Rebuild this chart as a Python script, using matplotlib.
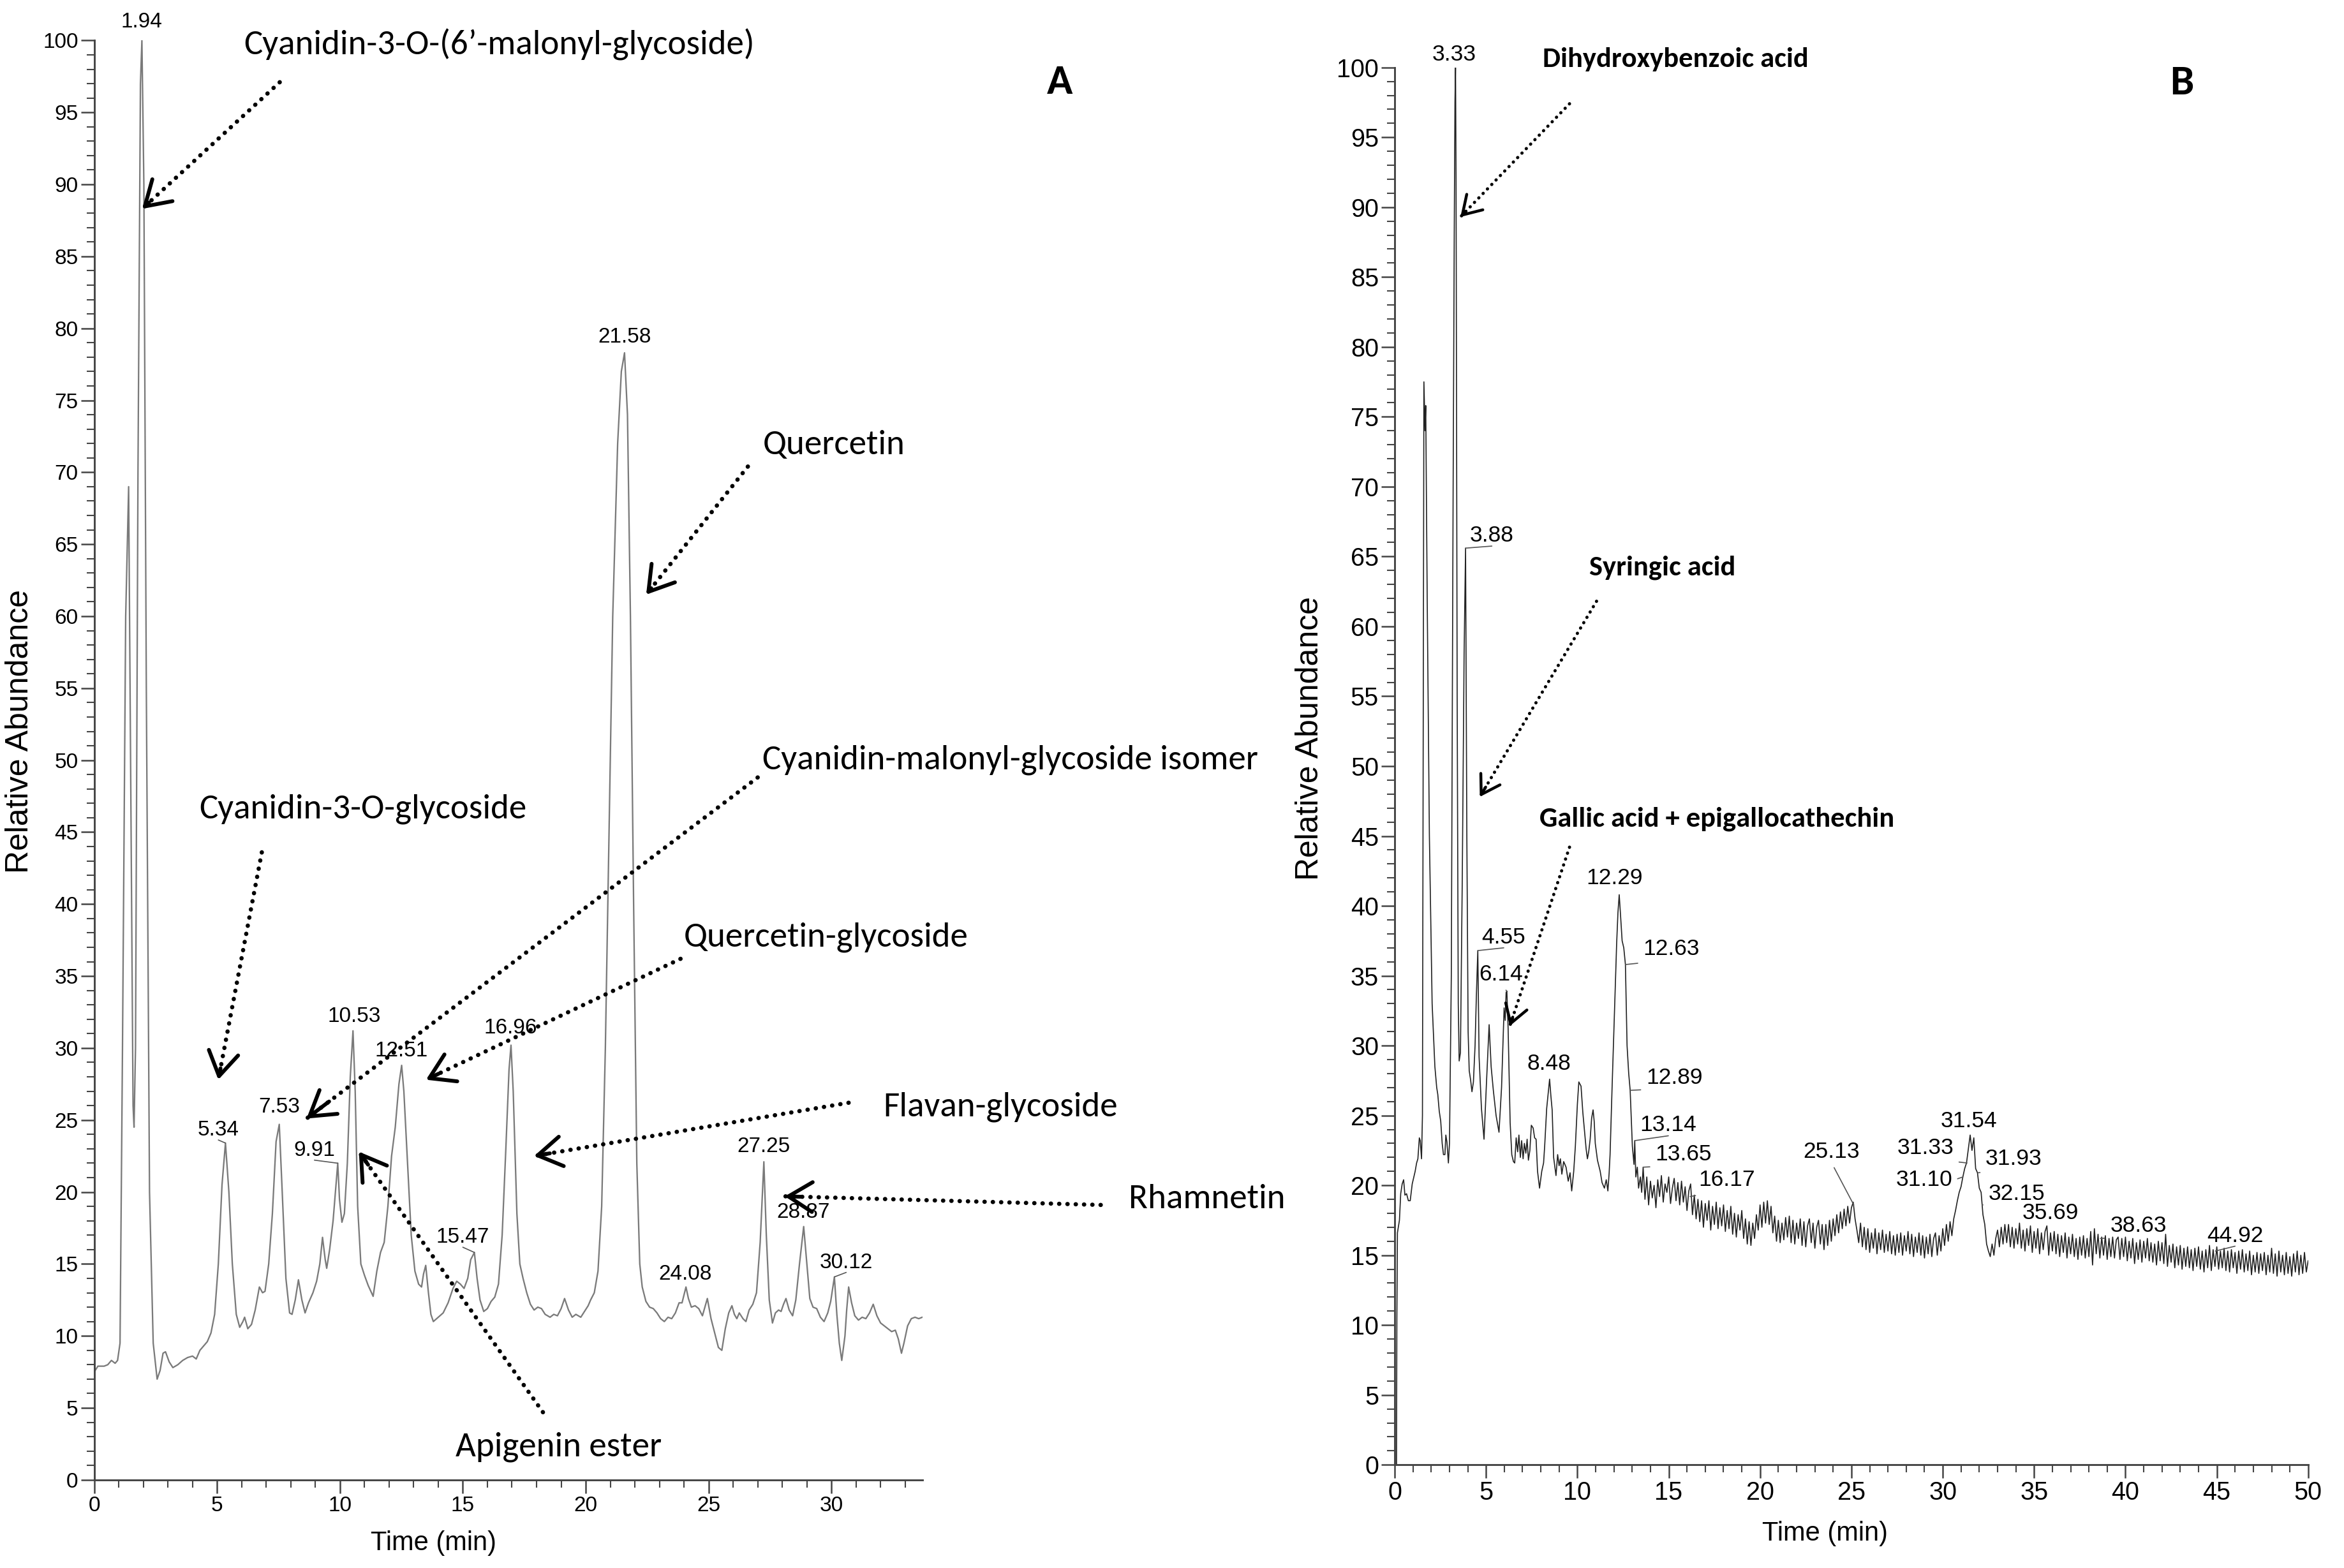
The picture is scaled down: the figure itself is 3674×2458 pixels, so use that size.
import numpy as np
import matplotlib
matplotlib.use("Agg")
import matplotlib.pyplot as plt
from matplotlib import font_manager
from matplotlib.ticker import MultipleLocator

# fonts: instrument-like narrow sans for axes, Calibri-like for the compound names
names = {f.name for f in font_manager.fontManager.ttflist}
NARROW = "Liberation Sans Narrow" if "Liberation Sans Narrow" in names else "Liberation Sans"
LABEL_FONT = "Carlito" if "Carlito" in names else "Lato"
NUM_FONT = "Liberation Sans"

# ---------------- panel A: chromatogram ----------------
a_time = [0.00, 0.15, 0.40, 0.55, 0.70, 0.85, 0.95, 1.05, 1.15, 1.28, 1.40, 1.50, 1.58, 1.62,
          1.68, 1.78, 1.88, 1.94, 2.02, 2.12, 2.25, 2.40, 2.56, 2.68, 2.80, 2.90, 3.05, 3.20,
          3.40, 3.60, 3.80, 4.00, 4.15, 4.30, 4.45, 4.60, 4.75, 4.90, 5.05, 5.20, 5.34, 5.48,
          5.62, 5.78, 5.92, 6.05, 6.12, 6.25, 6.40, 6.55, 6.72, 6.85, 6.95, 7.10, 7.25, 7.40,
          7.53, 7.65, 7.80, 7.95, 8.05, 8.18, 8.31, 8.45, 8.58, 8.72, 8.90, 9.05, 9.18, 9.29,
          9.40, 9.46, 9.58, 9.72, 9.91, 9.98, 10.08, 10.18, 10.30, 10.42, 10.53, 10.62, 10.72,
          10.85, 11.00, 11.15, 11.35, 11.50, 11.65, 11.80, 11.95, 12.10, 12.25, 12.40, 12.51,
          12.60, 12.75, 12.90, 13.05, 13.20, 13.32, 13.40, 13.49, 13.60, 13.70, 13.80, 14.00,
          14.20, 14.40, 14.60, 14.75, 14.90, 15.05, 15.20, 15.32, 15.47, 15.58, 15.70, 15.85,
          16.00, 16.15, 16.30, 16.45, 16.60, 16.75, 16.88, 16.96, 17.05, 17.20, 17.32, 17.45,
          17.60, 17.75, 17.90, 18.05, 18.20, 18.35, 18.55, 18.70, 18.85, 19.00, 19.14, 19.30,
          19.45, 19.60, 19.80, 19.95, 20.10, 20.20, 20.35, 20.50, 20.65, 20.80, 20.95, 21.10,
          21.30, 21.45, 21.58, 21.70, 21.82, 21.95, 22.08, 22.20, 22.30, 22.45, 22.60, 22.75,
          22.90, 23.05, 23.20, 23.35, 23.50, 23.65, 23.80, 23.92, 24.08, 24.18, 24.30, 24.45,
          24.60, 24.75, 24.85, 24.95, 25.10, 25.25, 25.40, 25.54, 25.68, 25.82, 25.95, 26.05,
          26.15, 26.25, 26.40, 26.52, 26.65, 26.80, 26.95, 27.10, 27.25, 27.35, 27.47, 27.60,
          27.72, 27.85, 27.95, 28.05, 28.15, 28.28, 28.42, 28.55, 28.70, 28.87, 29.00, 29.12,
          29.25, 29.40, 29.55, 29.70, 29.85, 29.97, 30.12, 30.22, 30.32, 30.42, 30.55, 30.62,
          30.70, 30.82, 30.95, 31.10, 31.25, 31.40, 31.55, 31.70, 31.85, 32.00, 32.15, 32.30,
          32.45, 32.60, 32.72, 32.85, 32.95, 33.10, 33.25, 33.40, 33.55, 33.70]
a_abund = [7.5, 7.9, 7.9, 8.0, 8.3, 8.1, 8.3, 9.5, 30.0, 60.0, 69.0, 45.0, 26.0, 24.5,
           30.0, 70.0, 97.0, 100.0, 90.0, 55.0, 20.0, 9.5, 7.0, 7.6, 8.8, 8.9, 8.2, 7.8,
           8.0, 8.3, 8.5, 8.6, 8.4, 9.0, 9.3, 9.6, 10.2, 11.5, 15.0, 20.5, 23.4, 20.0,
           15.0, 11.5, 10.6, 11.0, 11.3, 10.5, 10.8, 11.8, 13.4, 13.0, 13.1, 15.0, 18.5, 23.5,
           24.7, 20.0, 14.0, 11.6, 11.5, 12.5, 13.9, 12.5, 11.6, 12.3, 13.0, 13.8, 15.0, 16.85,
           15.3, 14.7, 16.0, 18.0, 22.0, 19.5, 17.9, 18.5, 22.0, 28.0, 31.2, 27.0, 19.0,
           15.0, 14.2, 13.5, 12.75, 14.5, 15.8, 16.5, 19.0, 22.5, 24.5, 27.5, 28.8,
           27.0, 22.0, 17.0, 14.5, 13.6, 13.4, 14.3, 14.9, 13.0, 11.5, 11.0, 11.3,
           11.6, 12.3, 13.3, 13.8, 13.6, 13.3, 14.0, 15.3, 15.8, 14.0, 12.5, 11.7,
           11.9, 12.4, 12.7, 13.6, 17.0, 23.0, 28.5, 30.2, 27.0, 18.5, 15.0, 14.0,
           13.0, 12.2, 11.8, 12.0, 11.9, 11.5, 11.3, 11.5, 11.4, 11.9, 12.6, 11.8,
           11.3, 11.5, 11.3, 11.7, 12.1, 12.5, 13.0, 14.5, 19.0, 30.0, 45.0, 60.0,
           72.0, 77.0, 78.3, 74.0, 60.0, 40.0, 22.0, 15.0, 13.4, 12.4, 12.0, 11.9,
           11.6, 11.2, 11.0, 11.3, 11.2, 11.6, 12.3, 12.3, 13.4, 12.6, 12.0, 12.1,
           11.9, 11.4, 12.0, 12.6, 11.2, 10.2, 9.2, 9.0, 10.5, 11.6, 12.1, 11.5,
           11.2, 11.6, 11.2, 11.0, 11.8, 12.2, 13.0, 16.5, 22.1, 17.0, 12.5, 10.9,
           11.6, 11.8, 11.7, 12.2, 12.6, 11.8, 11.4, 12.5, 15.0, 17.6, 15.0, 12.6,
           12.0, 11.9, 11.3, 11.0, 11.6, 12.4, 14.1, 11.5, 9.5, 8.3, 10.0, 11.8,
           13.4, 12.3, 11.4, 11.1, 11.3, 11.2, 11.6, 12.2, 11.4, 10.9, 10.7, 10.5,
           10.3, 10.4, 9.8, 8.8, 9.5, 10.7, 11.2, 11.3, 11.2, 11.3]

# peak labels A: text centre, peak apex, leader line or not
a_peak_lbl = ["1.94", "5.34", "7.53", "9.91", "10.53", "12.51", "15.47", "16.96", "21.58",
              "24.08", "27.25", "28.87", "30.12"]
a_peak_tx = [1.94, 5.05, 7.52, 8.96, 10.58, 12.5, 15.0, 16.95, 21.58, 24.05, 27.23, 28.85, 30.6]
a_peak_ty = [101.3, 24.3, 25.9, 22.9, 32.2, 29.8, 16.85, 31.4, 79.4, 14.3, 23.15, 18.6, 15.1]
a_peak_px = [1.94, 5.34, 7.53, 9.91, 10.53, 12.51, 15.47, 16.96, 21.58, 24.08, 27.25, 28.87, 30.12]
a_peak_py = [100, 23.4, 24.7, 22.0, 31.2, 28.8, 15.8, 30.2, 78.3, 13.4, 22.1, 17.6, 14.1]
a_leader = [False, True, False, True, False, False, True, False, False, False, False, False, True]

# compound names A: text position, arrow tail, arrow head (data coords)
a_cmp = ["Cyanidin-3-O-(6\u2019-malonyl-glycoside)", "Quercetin",
         "Cyanidin-malonyl-glycoside isomer", "Cyanidin-3-O-glycoside",
         "Quercetin-glycoside", "Flavan-glycoside", "Rhamnetin", "Apigenin ester"]
a_cmp_txt = [(6.1, 99.7), (27.2, 71.9), (27.2, 50.0), (4.26, 46.6),
             (24.0, 37.7), (32.1, 25.9), (42.1, 19.5), (14.7, 2.3)]
a_cmp_tail = [(7.55, 97.1), (26.6, 70.4), (27.0, 48.8), (6.82, 43.6),
              (23.86, 36.2), (30.7, 26.2), (40.96, 19.1), (18.26, 4.7)]
a_cmp_head = [(1.95, 88.3), (22.46, 61.5), (8.64, 25.1), (5.05, 27.8),
              (13.5, 27.8), (17.9, 22.5), (28.1, 19.7), (10.77, 22.8)]

# ---------------- panel B ----------------
b_head_time = [0.10, 0.12, 0.15, 0.26, 0.33, 0.41, 0.49, 0.56, 0.65, 0.75, 0.85, 0.96, 1.05,
               1.12, 1.20, 1.27, 1.35, 1.40, 1.47, 1.52, 1.60, 1.66, 1.70, 1.78, 1.90, 2.05,
               2.20, 2.30, 2.36, 2.44, 2.52, 2.60, 2.67, 2.75, 2.80, 2.86, 2.94, 3.00, 3.10,
               3.20, 3.26, 3.30, 3.33, 3.36, 3.42, 3.48, 3.53, 3.60, 3.70, 3.80, 3.88, 3.95,
               4.02, 4.08, 4.15, 4.23, 4.31, 4.40, 4.47, 4.55, 4.62, 4.75, 4.89, 5.03, 5.17,
               5.28, 5.40, 5.55, 5.71, 5.85, 5.99, 6.05, 6.10, 6.14, 6.21, 6.32, 6.41, 6.50,
               6.57, 6.65, 6.73, 6.80, 6.88, 6.95, 7.03, 7.10, 7.18, 7.25, 7.32, 7.40, 7.48,
               7.58, 7.66, 7.74, 7.82, 7.93, 8.05, 8.15, 8.21, 8.32, 8.48, 8.55, 8.62, 8.70,
               8.83, 8.92, 9.00, 9.07, 9.15, 9.25, 9.38, 9.50, 9.60, 9.69, 9.80, 9.89, 10.00,
               10.08, 10.20, 10.30, 10.39, 10.48, 10.55, 10.62, 10.70, 10.78, 10.86, 10.92,
               10.98, 11.10, 11.25, 11.35, 11.48, 11.58, 11.67, 11.74, 11.79, 11.90, 12.03,
               12.15, 12.22, 12.29, 12.35, 12.45, 12.54, 12.63, 12.72, 12.81, 12.89, 13.01,
               13.10, 13.14, 13.20, 13.28, 13.35, 13.45, 13.52]
b_head_abund = [0.0, 10.5, 16.6, 17.5, 19.4, 20.1, 20.4, 19.3, 19.4, 18.9, 18.9, 20.1, 20.6,
                21.0, 21.6, 21.9, 23.4, 23.2, 21.9, 25.0, 77.5, 74.0, 75.8, 62.0, 45.0, 33.0,
                28.5, 27.0, 26.5, 25.3, 24.6, 23.0, 22.2, 22.2, 23.6, 23.1, 21.6, 23.0, 35.0,
                70.0, 88.0, 97.5, 100.0, 92.0, 55.0, 33.0, 28.9, 29.5, 42.0, 58.0, 65.6, 45.0,
                31.0, 28.2, 27.6, 26.7, 27.4, 30.0, 33.5, 36.8, 29.2, 25.5, 23.3, 27.5, 31.5,
                28.5, 26.8, 25.0, 23.8, 27.0, 32.7, 31.8, 33.8, 33.9, 31.2, 24.5, 22.2, 21.7,
                21.6, 23.4, 22.4, 23.6, 22.0, 23.2, 21.9, 23.0, 22.3, 23.3, 21.8, 22.5, 24.3,
                24.1, 23.4, 23.3, 21.0, 19.8, 21.0, 21.6, 22.8, 25.5, 27.6, 26.4, 25.4, 22.0,
                20.7, 22.2, 21.4, 21.9, 20.8, 21.7, 21.3, 20.3, 20.9, 19.6, 21.0, 22.8, 25.8,
                27.4, 27.1, 25.2, 23.9, 22.6, 21.9, 22.4, 23.3, 24.8, 25.4, 24.6,
                23.0, 21.8, 21.0, 20.2, 19.8, 20.4, 19.6, 20.9, 22.2, 27.0, 32.4,
                37.3, 39.5, 40.8, 39.6, 37.5, 37.0, 35.8, 30.0, 28.0, 26.8, 22.8,
                21.5, 23.2, 20.6, 21.3, 19.8, 20.6, 19.5]

# scans every 0.1 min from 13.6 to 50.0 min (noisy baseline, read row by row)
b_tail_time = np.arange(136, 501) / 10.0
b_tail_abund = [
    21.3, 19.0, 20.6, 18.6, 20.3, 19.1, 20.0, 18.4, 20.4, 19.2, 20.7, 18.8, 20.1, 19.5, 20.6, 18.7, 19.8, 20.5, 18.9, 20.2,
    18.6, 20.3, 18.8, 19.9, 18.2, 19.6, 20.1, 17.9, 19.3, 17.6, 19.0, 17.4, 18.9, 17.0, 18.7, 17.5, 18.9, 16.8, 18.5, 17.2,
    18.8, 16.9, 18.4, 17.1, 18.6, 16.7, 18.2, 16.9, 18.5, 16.5, 18.0, 16.3, 17.9, 16.8, 18.2, 16.2, 17.6, 15.8, 17.4, 15.7,
    17.3, 16.2, 17.9, 16.8, 18.6, 17.0, 18.8, 17.3, 18.9, 17.2, 18.5, 16.6, 17.8, 16.0, 17.5, 15.9, 17.3, 16.1, 17.7, 16.3,
    17.8, 15.9, 17.5, 15.8, 17.3, 16.2, 17.6, 15.7, 17.4, 15.6, 17.1, 17.6, 15.9, 17.3, 15.5, 17.0, 17.5, 15.8, 17.2, 15.4,
    17.2, 15.7, 17.5, 16.0, 17.6, 16.4, 17.9, 16.6, 18.1, 16.9, 18.3, 17.1, 18.5, 17.3, 18.4, 18.8, 17.6, 16.8, 15.9, 17.3,
    15.6, 17.0, 15.4, 16.9, 15.2, 16.6, 15.5, 16.9, 15.1, 16.6, 15.4, 16.8, 15.2, 16.5, 15.3, 16.7, 15.1, 16.4, 15.0, 16.5,
    15.2, 16.6, 15.0, 16.4, 15.3, 16.7, 15.1, 16.5, 14.9, 16.3, 15.2, 16.6, 15.0, 16.4, 14.8, 16.3, 15.1, 16.5, 14.9, 16.2,
    16.6, 15.0, 16.4, 15.3, 16.9, 15.7, 17.2, 16.0, 17.4, 16.4, 17.6, 18.2, 18.9, 19.5, 19.9, 20.6, 21.2, 21.6, 22.6, 23.6,
    22.5, 23.4, 21.2, 20.9, 19.8, 19.5, 17.9, 17.2, 15.8, 15.3, 14.9, 15.8, 15.0, 16.2, 16.8, 15.6, 17.0, 15.8, 17.2, 15.9,
    17.2, 15.6, 17.0, 15.5, 16.9, 15.8, 17.3, 15.5, 16.8, 15.3, 16.9, 15.7, 17.1, 15.2, 16.7, 15.5, 16.9, 15.1, 16.6, 15.4,
    16.7, 17.1, 15.0, 16.6, 15.3, 16.7, 15.1, 16.5, 14.9, 16.4, 15.2, 16.6, 14.8, 16.3, 15.1, 16.5, 14.9, 16.2, 14.7, 16.3,
    15.0, 16.4, 14.8, 16.2, 14.9, 16.7, 14.3, 16.9, 15.1, 16.5, 14.8, 16.3, 15.0, 16.4, 14.7, 16.2, 14.9, 16.3, 14.8, 16.1,
    16.3, 14.7, 16.2, 14.9, 16.3, 14.6, 16.0, 14.8, 16.2, 14.4, 15.9, 14.7, 16.1, 14.5, 16.0, 14.8, 16.2, 14.6, 15.9, 14.5,
    15.8, 14.3, 16.0, 14.6, 15.9, 14.4, 16.5, 14.2, 15.7, 14.5, 15.8, 14.1, 15.6, 14.3, 15.7, 14.0, 15.5, 14.2, 15.6, 14.1,
    15.4, 13.9, 15.5, 14.2, 15.6, 14.0, 15.3, 13.8, 15.4, 14.1, 15.7, 13.9, 15.4, 14.2, 15.6, 14.0, 15.3, 14.1, 15.5, 13.9,
    15.3, 13.8, 15.4, 14.1, 15.2, 13.7, 15.3, 14.0, 15.4, 13.8, 15.1, 13.9, 15.3, 13.6, 15.0, 13.8, 15.2, 13.7, 15.1, 13.9,
    15.2, 13.6, 15.0, 13.8, 15.5, 13.7, 15.1, 13.5, 15.3, 13.8, 15.0, 13.6, 15.2, 13.7, 14.9, 13.5, 15.1, 13.8, 15.3, 13.6,
    15.0, 13.7, 15.2, 13.8, 14.6]

b_peak_lbl = ["3.33", "3.88", "4.55", "6.14", "8.48", "12.29", "12.63", "12.89", "13.14",
              "13.65", "16.17", "25.13", "31.54", "31.33", "31.93", "31.10", "32.15",
              "35.69", "38.63", "44.92"]
b_peak_tx = [3.27, 5.32, 5.97, 5.81, 8.43, 12.03, 15.14, 15.3, 14.98, 15.8, 18.17, 23.9,
             31.42, 29.05, 33.88, 28.97, 34.04, 35.9, 40.7, 46.0]
b_peak_ty = [100.9, 66.5, 37.75, 35.1, 28.7, 42.0, 36.9, 27.7, 24.3, 22.2, 20.4, 22.4,
             24.6, 22.7, 21.9, 20.4, 19.4, 18.0, 17.1, 16.4]
b_peak_px = [3.33, 3.88, 4.55, 6.14, 8.48, 12.29, 12.63, 12.89, 13.14, 13.6, 16.17, 25.13,
             31.54, 31.33, 31.93, 31.10, 32.15, 35.69, 38.63, 44.92]
b_peak_py = [100, 65.6, 36.8, 33.9, 27.6, 40.8, 35.8, 26.8, 23.2, 21.3, 19.2, 18.6,
             23.6, 21.6, 20.9, 20.6, 18.6, 16.8, 16.2, 15.3]
b_leader = [False, True, True, True, False, False, True, True, True, True, True, True,
            False, True, True, True, True, True, True, True]

b_cmp = ["Dihydroxybenzoic acid", "Syringic acid", "Gallic acid + epigallocathechin"]
b_cmp_txt = [(8.1, 100.6), (10.64, 64.2), (7.94, 46.2)]
b_cmp_tail = [(9.57, 97.4), (11.05, 61.8), (9.57, 44.2)]
b_cmp_head = [(3.6, 89.3), (4.66, 47.8), (6.3, 31.4)]


def pointer(ax, tail, head, lw, scale):
    # dotted shaft + solid open arrow head
    ax.annotate("", xy=head, xytext=tail, annotation_clip=False,
                arrowprops=dict(arrowstyle="-", linestyle=(0, (0.05, 1.9)), lw=lw,
                                capstyle="round", color="black", shrinkA=0, shrinkB=0))
    near = (head[0] + 0.05 * (tail[0] - head[0]), head[1] + 0.05 * (tail[1] - head[1]))
    ax.annotate("", xy=head, xytext=near, annotation_clip=False,
                arrowprops=dict(arrowstyle="->,head_length=0.45,head_width=0.28",
                                lw=lw * 0.9, color="black", shrinkA=0, shrinkB=0,
                                mutation_scale=scale))


def peak_labels(ax, lbls, tx, ty, px, py, leader, size):
    for lbl, x, y, x0, y0, ld in zip(lbls, tx, ty, px, py, leader):
        if ld:
            ax.annotate(lbl, xy=(x0, y0), xytext=(x, y), ha="center", va="center",
                        fontsize=size, family=NUM_FONT,
                        arrowprops=dict(arrowstyle="-", lw=0.4, color="#555555",
                                        relpos=(0.5, 0.0), shrinkA=0, shrinkB=0))
        else:
            ax.text(x, y, lbl, ha="center", va="center", fontsize=size, family=NUM_FONT)


def style_axis(ax, xmax, tick_size):
    ax.set_xlim(0, xmax)
    ax.set_ylim(0, 100)
    for s in ["top", "right"]:
        ax.spines[s].set_visible(False)
    for s in ["left", "bottom"]:
        ax.spines[s].set_linewidth(0.7)
        ax.spines[s].set_color("#444444")
    ax.xaxis.set_major_locator(MultipleLocator(5))
    ax.xaxis.set_minor_locator(MultipleLocator(1))
    ax.yaxis.set_major_locator(MultipleLocator(5))
    ax.yaxis.set_minor_locator(MultipleLocator(1))
    ax.tick_params(which="major", direction="out", length=5, width=0.6, color="#444444",
                   labelsize=tick_size, pad=1)
    ax.tick_params(which="minor", direction="out", length=2.8, width=0.5, color="#444444")
    for lab in ax.get_xticklabels() + ax.get_yticklabels():
        lab.set_family(NARROW)
    ax.set_ylabel("Relative Abundance", family=NUM_FONT, fontsize=12)
    ax.set_xlabel("Time (min)", family=NARROW, fontsize=10)


fig = plt.figure(figsize=(3674 / 300, 2458 / 300), dpi=300)
fig.patch.set_facecolor("white")

# ---- A ----
axA = fig.add_axes([0.0402, 0.0562, 0.3533, 0.918])
axA.plot(a_time, a_abund, color="#7a7a7a", lw=0.55)
style_axis(axA, 33.7, 8)
axA.yaxis.set_label_coords(-0.072, 0.52)
axA.xaxis.set_label_coords(0.41, -0.035)
peak_labels(axA, a_peak_lbl, a_peak_tx, a_peak_ty, a_peak_px, a_peak_py, a_leader, 8)

for name, txy, tail, head in zip(a_cmp, a_cmp_txt, a_cmp_tail, a_cmp_head):
    axA.text(txy[0], txy[1], name, ha="left", va="center", fontsize=13.2,
             family=LABEL_FONT, clip_on=False)
    pointer(axA, tail, head, 1.6, 20)

axA.text(39.3, 97.1, "A", fontsize=16, fontweight="bold", family=LABEL_FONT,
         ha="center", va="center")

# ---- B ----
axB = fig.add_axes([0.595, 0.0658, 0.3897, 0.8912])
b_time = list(b_head_time) + list(b_tail_time)
b_abund = list(b_head_abund) + list(b_tail_abund)
axB.plot(b_time, b_abund, color="#222222", lw=0.4)
style_axis(axB, 50, 9.5)
axB.yaxis.set_label_coords(-0.077, 0.52)
axB.xaxis.set_label_coords(0.471, -0.04)
peak_labels(axB, b_peak_lbl, b_peak_tx, b_peak_ty, b_peak_px, b_peak_py, b_leader, 8.5)

for name, txy, tail, head in zip(b_cmp, b_cmp_txt, b_cmp_tail, b_cmp_head):
    axB.text(txy[0], txy[1], name, ha="left", va="center", fontsize=10.7,
             fontweight="bold", family=LABEL_FONT, clip_on=False)
    pointer(axB, tail, head, 1.2, 15)

axB.text(43.1, 98.9, "B", fontsize=16, fontweight="bold", family=LABEL_FONT,
         ha="center", va="center")

fig.savefig("out.png", dpi=300, facecolor="white")
